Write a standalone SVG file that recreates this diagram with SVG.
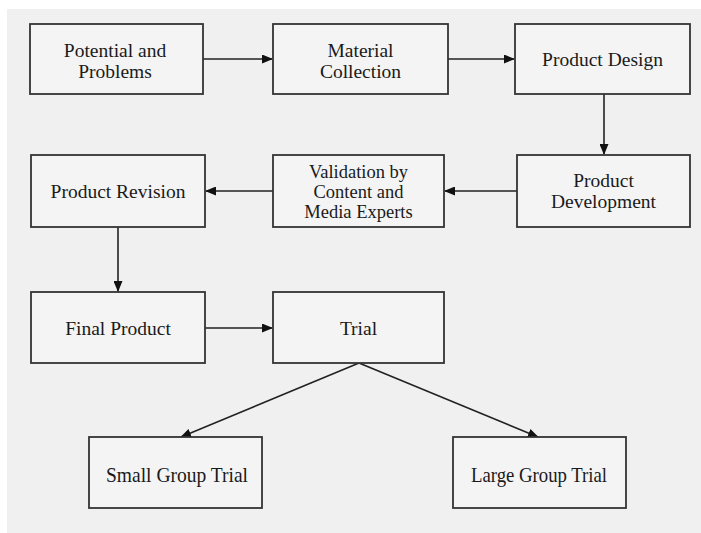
<svg xmlns="http://www.w3.org/2000/svg" width="701" height="533" viewBox="0 0 701 533">
<defs>
<style>
.box{fill:#f4f4f4;stroke:#333;stroke-width:1.8}
.t{font-family:'Liberation Serif','Times New Roman','DejaVu Serif',serif;font-size:19.5px;fill:#1a1a1a;text-anchor:middle}
.s{font-size:18.5px}
.c{fill:none;stroke:#222;stroke-width:1.6}
</style>
<marker id="ah" markerUnits="userSpaceOnUse" markerWidth="11" markerHeight="9" refX="10" refY="4.5" orient="auto">
<path d="M0,0 L11,4.5 L0,9 z" fill="#111"/>
</marker>
</defs>
<rect x="0" y="0" width="701" height="533" fill="#ffffff"/>
<rect x="7" y="9" width="694" height="524" fill="#f0f0f0"/>

<g id="connectors">
<line class="c" x1="203" y1="59" x2="272" y2="59" marker-end="url(#ah)"/>
<line class="c" x1="448" y1="59" x2="514" y2="59" marker-end="url(#ah)"/>
<line class="c" x1="604" y1="94" x2="604" y2="154" marker-end="url(#ah)"/>
<line class="c" x1="517" y1="191" x2="445" y2="191" marker-end="url(#ah)"/>
<line class="c" x1="273" y1="191" x2="206" y2="191" marker-end="url(#ah)"/>
<line class="c" x1="118" y1="227" x2="118" y2="291" marker-end="url(#ah)"/>
<line class="c" x1="205" y1="328" x2="272" y2="328" marker-end="url(#ah)"/>
<line class="c" x1="359" y1="363" x2="181" y2="437" marker-end="url(#ah)"/>
<line class="c" x1="359" y1="363" x2="538" y2="437" marker-end="url(#ah)"/>
</g>

<g font-family="Liberation Serif, Times New Roman, DejaVu Serif, serif">
<g id="potential">
<rect class="box" x="30" y="24" width="173" height="70"/>
<text class="t" x="115" y="57">Potential and</text>
<text class="t" x="115" y="78">Problems</text>
</g>
<g id="material">
<rect class="box" x="273" y="24" width="175" height="70"/>
<text class="t" x="360.5" y="57">Material</text>
<text class="t" x="360.5" y="78">Collection</text>
</g>
<g id="design">
<rect class="box" x="515" y="24" width="175" height="70"/>
<text class="t" x="602.5" y="66">Product Design</text>
</g>
<g id="development">
<rect class="box" x="517" y="155" width="173" height="72"/>
<text class="t" x="603.5" y="187">Product</text>
<text class="t" x="603.5" y="208">Development</text>
</g>
<g id="validation">
<rect class="box" x="273" y="155" width="171" height="72"/>
<text class="t s" x="358.5" y="178">Validation by</text>
<text class="t s" x="358.5" y="198">Content and</text>
<text class="t s" x="358.5" y="218">Media Experts</text>
</g>
<g id="revision">
<rect class="box" x="31" y="155" width="174" height="72"/>
<text class="t" x="118" y="198">Product Revision</text>
</g>
<g id="final">
<rect class="box" x="31" y="292" width="174" height="71"/>
<text class="t" x="118" y="335">Final Product</text>
</g>
<g id="trial">
<rect class="box" x="273" y="292" width="171" height="71"/>
<text class="t" x="358.5" y="335">Trial</text>
</g>
<g id="small">
<rect class="box" x="89" y="437" width="173" height="71"/>
<text class="t" x="177" y="482" style="font-size:21px" textLength="142" lengthAdjust="spacingAndGlyphs">Small Group Trial</text>
</g>
<g id="large">
<rect class="box" x="453" y="437" width="173" height="71"/>
<text class="t" x="539" y="482" style="font-size:21px" textLength="136" lengthAdjust="spacingAndGlyphs">Large Group Trial</text>
</g>
</g>
</svg>
